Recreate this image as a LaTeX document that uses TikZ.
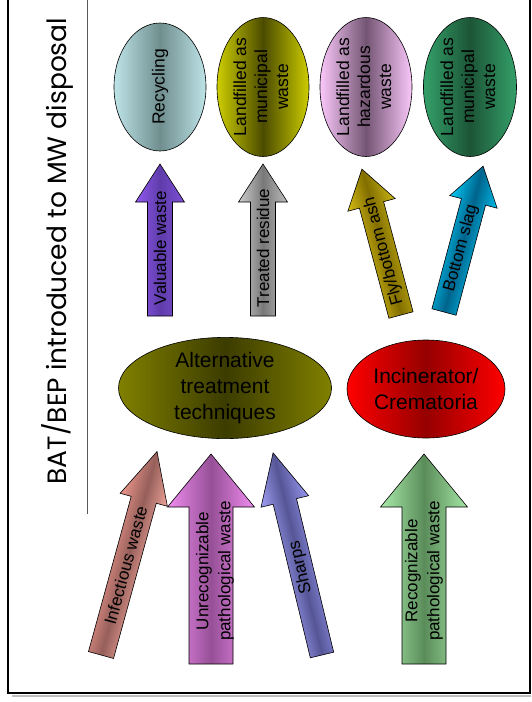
\documentclass[tikz,border=0pt]{standalone}
\usepackage{fontspec}
\setmainfont{Liberation Sans}
\newfontfamily\titlefont{Poppins}
\usepackage{tikz}
\usetikzlibrary{shapes.geometric}

\definecolor{recyclelight}{RGB}{190,228,232}
\definecolor{recycledark}{RGB}{112,142,142}
\definecolor{yellowlight}{RGB}{205,205,0}
\definecolor{yellowdark}{RGB}{75,75,0}
\definecolor{pinklight}{RGB}{250,200,250}
\definecolor{pinkdark}{RGB}{115,85,115}
\definecolor{greenlight}{RGB}{52,160,105}
\definecolor{greendark}{RGB}{28,85,55}
\definecolor{olivelight}{RGB}{128,128,0}
\definecolor{olivedark}{RGB}{60,60,0}
\definecolor{redlight}{RGB}{255,0,0}
\definecolor{reddark}{RGB}{150,0,0}

\tikzset{
    endbox/.style={ellipse, draw=black, line width=0.6pt, inner sep=0pt, font=\fontsize{17.5}{21}\selectfont},
    treatbox/.style={ellipse, draw=black, line width=0.6pt, inner sep=0pt, align=center, font=\fontsize{21}{26}\selectfont},
    flowarrow/.style={draw=black, line width=0.6pt},
    arrowlabel/.style={rotate=90, align=center, inner sep=0pt, font=\fontsize{17}{22}\selectfont}
}

\begin{document}
\begin{tikzpicture}[x=1pt, y=-1pt]
    \useasboundingbox (0,0) rectangle (531,702);
    % frame and title
    \draw[gray!50, line width=2pt] (12,696) -- (531,696);
    \draw[line width=2pt] (8,-20) rectangle (530,693);
    \draw[gray!70!black, line width=0.8pt] (87,-5) -- (87,514);
    \node[rotate=90, font=\titlefont\fontsize{26.5}{30}\selectfont] (title) at (57,251) {BAT/BEP introduced to MW disposal};

    % final disposal
    \node[endbox, minimum width=92pt, minimum height=128pt, left color=recyclelight, right color=recyclelight, middle color=recycledark] (recycling) at (160,87) {\rotatebox{90}{Recycling}};
    \node[endbox, minimum width=92pt, minimum height=138pt, left color=yellowlight, right color=yellowlight, middle color=yellowdark] (municipal1) at (263,87) {\rotatebox{90}{\begin{tabular}{@{}c@{}}Landfilled as\\municipal\\waste\end{tabular}}};
    \node[endbox, minimum width=92pt, minimum height=138pt, left color=pinklight, right color=pinklight, middle color=pinkdark] (hazardous) at (366,87) {\rotatebox{90}{\begin{tabular}{@{}c@{}}Landfilled as\\hazardous\\waste\end{tabular}}};
    \node[endbox, minimum width=93pt, minimum height=138pt, left color=greenlight, right color=greenlight, middle color=greendark] (municipal2) at (470,87) {\rotatebox{90}{\begin{tabular}{@{}c@{}}Landfilled as\\municipal\\waste\end{tabular}}};

    % treatment
    \node[treatbox, minimum width=213pt, minimum height=100pt, left color=olivelight, right color=olivelight, middle color=olivedark] (alternative) at (225,388) {Alternative\\treatment\\techniques};
    \node[treatbox, minimum width=158pt, minimum height=98pt, left color=redlight, right color=redlight, middle color=reddark] (incinerator) at (426,389) {Incinerator/\\Crematoria};

    % residues to disposal
    \begin{scope}[transform canvas={shift={(160,316)}}]
        \shade[flowarrow, left color={rgb,255:red,145;green,90;blue,240}, right color={rgb,255:red,125;green,80;blue,215}, middle color={rgb,255:red,95;green,60;blue,170}] (-12.5,0) -- (-12.5,-114) -- (-24.5,-114) -- (0,-152) -- (24.5,-114) -- (12.5,-114) -- (12.5,0) -- cycle;
        \node[arrowlabel] (valuable) at (0,-68) {Valuable waste};
    \end{scope}
    \begin{scope}[transform canvas={shift={(263,316)}}]
        \shade[flowarrow, left color={rgb,255:red,205;green,205;blue,205}, right color={rgb,255:red,190;green,190;blue,190}, middle color={rgb,255:red,120;green,120;blue,120}] (-12.5,0) -- (-12.5,-114) -- (-24.5,-114) -- (0,-152) -- (24.5,-114) -- (12.5,-114) -- (12.5,0) -- cycle;
        \node[arrowlabel] (residue) at (0,-68) {Treated residue};
    \end{scope}
    \begin{scope}[transform canvas={shift={(401,315)}, rotate=15}]
        \shade[flowarrow, left color={rgb,255:red,215;green,190;blue,20}, right color={rgb,255:red,200;green,180;blue,20}, middle color={rgb,255:red,130;green,110;blue,0}] (-12.5,0) -- (-12.5,-114) -- (-24.5,-114) -- (0,-151) -- (24.5,-114) -- (12.5,-114) -- (12.5,0) -- cycle;
        \node[arrowlabel] (flyash) at (0,-66) {Fly/bottom ash};
    \end{scope}
    \begin{scope}[transform canvas={shift={(444,312)}, rotate=-15}]
        \shade[flowarrow, left color={rgb,255:red,0;green,200;blue,245}, right color={rgb,255:red,0;green,190;blue,235}, middle color={rgb,255:red,0;green,100;blue,140}] (-12.5,0) -- (-12.5,-114) -- (-24.5,-114) -- (0,-151) -- (24.5,-114) -- (12.5,-114) -- (12.5,0) -- cycle;
        \node[arrowlabel] (slag) at (0,-66) {Bottom slag};
    \end{scope}

    % waste streams to treatment
    \begin{scope}[transform canvas={shift={(101,655)}, rotate=-15.4}]
        \shade[flowarrow, left color={rgb,255:red,235;green,150;blue,140}, right color={rgb,255:red,240;green,165;blue,155}, middle color={rgb,255:red,150;green,95;blue,90}] (-13,0) -- (-13,-161) -- (-24.5,-161) -- (0,-211) -- (24.5,-161) -- (13,-161) -- (13,0) -- cycle;
        \node[arrowlabel] (infectious) at (0,-93) {Infectious waste};
    \end{scope}
    \begin{scope}[transform canvas={shift={(211,664)}}]
        \shade[flowarrow, left color={rgb,255:red,240;green,140;blue,240}, right color={rgb,255:red,240;green,140;blue,240}, middle color={rgb,255:red,150;green,80;blue,150}] (-22,0) -- (-22,-157) -- (-43.5,-157) -- (0,-210) -- (43.5,-157) -- (22,-157) -- (22,0) -- cycle;
        \node[arrowlabel] (unrecognizable) at (4,-93) {Unrecognizable\\pathological waste};
    \end{scope}
    \begin{scope}[transform canvas={shift={(322,655)}, rotate=13.6}]
        \shade[flowarrow, left color={rgb,255:red,160;green,160;blue,245}, right color={rgb,255:red,150;green,150;blue,240}, middle color={rgb,255:red,85;green,85;blue,150}] (-12,0) -- (-12,-158) -- (-24.5,-158) -- (0,-208) -- (24.5,-158) -- (12,-158) -- (12,0) -- cycle;
        \node[arrowlabel] (sharps) at (0,-90) {Sharps};
    \end{scope}
    \begin{scope}[transform canvas={shift={(424,664)}}]
        \shade[flowarrow, left color={rgb,255:red,170;green,235;blue,170}, right color={rgb,255:red,165;green,230;blue,165}, middle color={rgb,255:red,90;green,140;blue,90}] (-22,0) -- (-22,-157) -- (-43.5,-157) -- (0,-210) -- (43.5,-157) -- (22,-157) -- (22,0) -- cycle;
        \node[arrowlabel] (recognizable) at (0,-93) {Recognizable\\pathological waste};
    \end{scope}
\end{tikzpicture}
\end{document}
